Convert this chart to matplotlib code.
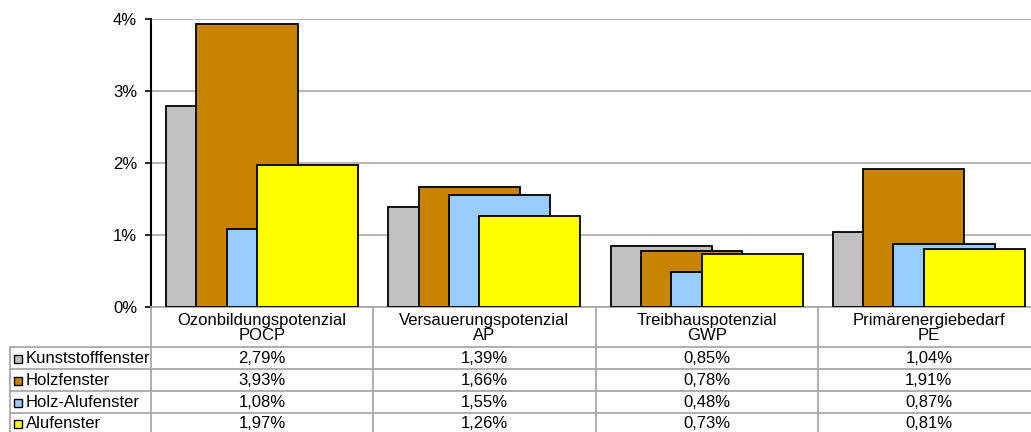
import matplotlib
matplotlib.use("Agg")
import matplotlib.pyplot as plt
from matplotlib.transforms import blended_transform_factory
from matplotlib.ticker import FuncFormatter
import numpy as np

plt.rcParams['font.family'] = ['Liberation Sans', 'DejaVu Sans']

categories = ["Ozonbildungspotenzial\nPOCP", "Versauerungspotenzial\nAP",
              "Treibhauspotenzial\nGWP", "Primärenergiebedarf\nPE"]
series_names = ["Kunststofffenster", "Holzfenster", "Holz-Alufenster", "Alufenster"]
kunststoff = [2.79, 1.39, 0.85, 1.04]
holz = [3.93, 1.66, 0.78, 1.91]
holzalu = [1.08, 1.55, 0.48, 0.87]
alu = [1.97, 1.26, 0.73, 0.81]
series_values = [kunststoff, holz, holzalu, alu]
colors = ["#C0C0C0", "#C88400", "#99CCFF", "#FFFF00"]
y_ticks = [0, 1, 2, 3, 4]

W, H = 1031, 432
fig = plt.figure(figsize=(W / 100, H / 100), dpi=100)

# background axes in pixel coordinates for the data table
axt = fig.add_axes([0, 0, 1, 1], zorder=0)
axt.set_xlim(0, W)
axt.set_ylim(H, 0)
axt.axis("off")

# main chart axes
left_px, right_px, top_px, bot_px = 151, 1040, 19, 307
ax = fig.add_axes([left_px / W, (H - bot_px) / H, (right_px - left_px) / W, (bot_px - top_px) / H],
                  zorder=2)
ax.patch.set_alpha(0)

n = len(categories)
x = np.arange(n)
bw = 0.455
step = 0.1365
for i, (vals, col) in enumerate(zip(series_values, colors)):
    ax.bar(x + (i - 1.5) * step, vals, width=bw, color=col, edgecolor="black",
           linewidth=1.3, zorder=3 + i)

ax.set_xlim(-0.5, n - 0.5)
ax.set_ylim(0, 4)
ax.set_yticks(y_ticks)
ax.yaxis.set_major_formatter(FuncFormatter(lambda v, p: f"{int(v)}%"))
ax.tick_params(axis="y", length=4, width=1.2, pad=6, labelsize=12, colors="black")
ax.set_xticks([])
ax.grid(axis="y", color="#A8A8A8", linewidth=1.2, zorder=0)
ax.set_axisbelow(True)
for s in ["top", "right"]:
    ax.spines[s].set_visible(False)
ax.spines["left"].set_linewidth(1.5)
ax.spines["bottom"].set_color("#A8A8A8")
ax.spines["bottom"].set_linewidth(1.3)

# ---- data table ----
tr = blended_transform_factory(ax.transData, axt.transData)
lc = "#A8A8A8"
lw = 1.3
row_lines = [347, 369, 391, 413]
for yl in row_lines:
    axt.plot([10, W], [yl, yl], color=lc, lw=lw, solid_capstyle="butt")
axt.plot([10, 10], [347, H], color=lc, lw=lw)
for b in np.arange(n + 1) - 0.5:
    axt.plot([b, b], [bot_px, H], color=lc, lw=lw, transform=tr)

# header
for i, cat in enumerate(categories):
    axt.text(i, 328, cat, transform=tr, ha="center", va="center", fontsize=12,
             linespacing=0.92, color="black")

row_centers = [358.5, 380.5, 402.5, 424]
for r, (name, vals, col) in enumerate(zip(series_names, series_values, colors)):
    yc = row_centers[r]
    axt.add_patch(plt.Rectangle((14, yc - 4), 8, 8, facecolor=col, edgecolor="black", lw=1.0))
    axt.text(26, yc, name, ha="left", va="center", fontsize=12, color="black")
    for i, v in enumerate(vals):
        axt.text(i, yc, f"{v:.2f}%".replace(".", ","), transform=tr, ha="center",
                 va="center", fontsize=12, color="black")

fig.savefig("out.png", dpi=100)
